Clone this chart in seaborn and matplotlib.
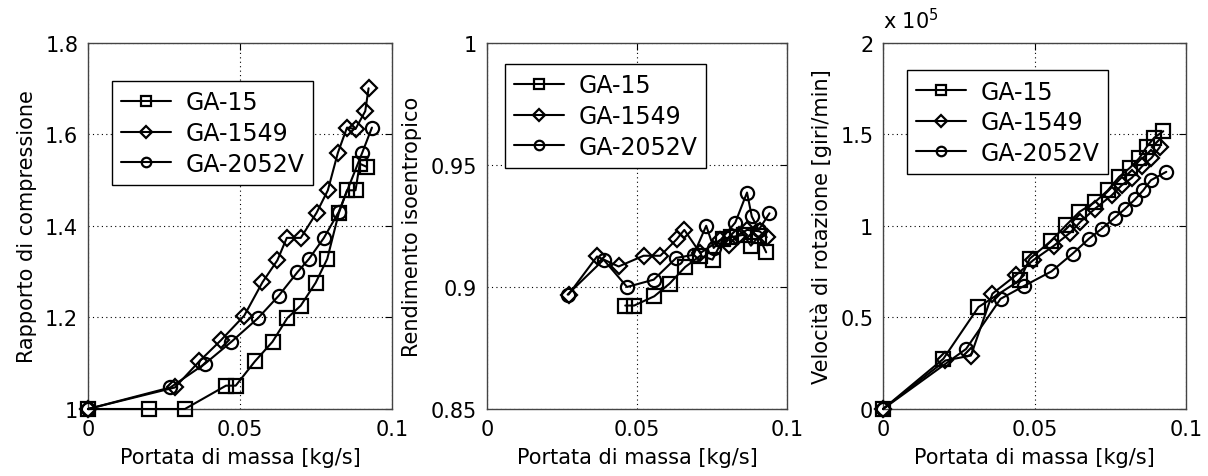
import numpy as np
import pandas as pd
import seaborn as sns
import matplotlib.pyplot as plt
from matplotlib.ticker import FixedLocator, FixedFormatter

# --- dati ---
series = ["GA-15", "GA-1549", "GA-2052V"]
markers = {"GA-15": "s", "GA-1549": "D", "GA-2052V": "o"}

# Rapporto di compressione
p1_ga15_x = [0, 0.0202, 0.0319, 0.0454, 0.0486, 0.0549, 0.0607, 0.0656, 0.0700, 0.0749, 0.0787, 0.0825, 0.0852, 0.0880, 0.0894, 0.0918]
p1_ga15_y = [1.0, 1.0, 1.0, 1.051, 1.051, 1.104, 1.147, 1.199, 1.226, 1.276, 1.328, 1.428, 1.478, 1.478, 1.536, 1.529]
p1_ga1549_x = [0, 0.0286, 0.0366, 0.0437, 0.0514, 0.0574, 0.0623, 0.0654, 0.0700, 0.0752, 0.0789, 0.0822, 0.0852, 0.0880, 0.0912, 0.0923]
p1_ga1549_y = [1.0, 1.047, 1.104, 1.150, 1.204, 1.277, 1.325, 1.374, 1.374, 1.429, 1.478, 1.560, 1.615, 1.612, 1.651, 1.701]
p1_ga2052_x = [0, 0.0271, 0.0385, 0.0472, 0.0560, 0.0628, 0.0689, 0.0727, 0.0776, 0.0825, 0.0902, 0.0934]
p1_ga2052_y = [1.0, 1.047, 1.099, 1.147, 1.199, 1.248, 1.299, 1.328, 1.374, 1.431, 1.560, 1.615]

# Rendimento isoentropico
p2_ga15_x = [0.0461, 0.0491, 0.0558, 0.0609, 0.0661, 0.0711, 0.0752, 0.0787, 0.0813, 0.0856, 0.0880, 0.0906, 0.0931]
p2_ga15_y = [0.8924, 0.8924, 0.8962, 0.9014, 0.9082, 0.9128, 0.9112, 0.9196, 0.9204, 0.9214, 0.9169, 0.9207, 0.9142]
p2_ga1549_x = [0.0272, 0.0367, 0.0439, 0.0522, 0.0578, 0.0633, 0.0658, 0.0711, 0.0778, 0.0806, 0.0839, 0.0867, 0.0909, 0.0933]
p2_ga1549_y = [0.8969, 0.9125, 0.9084, 0.9128, 0.9128, 0.9196, 0.9234, 0.9139, 0.9193, 0.9173, 0.9214, 0.9234, 0.9228, 0.9204]
p2_ga2052_x = [0.0269, 0.0389, 0.0467, 0.0556, 0.0631, 0.0689, 0.0731, 0.0756, 0.0828, 0.0867, 0.0883, 0.0906, 0.0942]
p2_ga2052_y = [0.8969, 0.9112, 0.9000, 0.9030, 0.9119, 0.9132, 0.9251, 0.9160, 0.9264, 0.9387, 0.9289, 0.9234, 0.9302]

# Velocità di rotazione (x 1e5 giri/min)
p3_ga15_x = [0, 0.0199, 0.0315, 0.0451, 0.0484, 0.0553, 0.0604, 0.0648, 0.0700, 0.0742, 0.0779, 0.0815, 0.0845, 0.0870, 0.0895, 0.0925]
p3_ga15_y = [0, 0.274, 0.557, 0.703, 0.821, 0.916, 1.004, 1.077, 1.131, 1.195, 1.268, 1.318, 1.369, 1.432, 1.482, 1.518]
p3_ga1549_x = [0, 0.0206, 0.0290, 0.0361, 0.0438, 0.0495, 0.0563, 0.0618, 0.0651, 0.0700, 0.0755, 0.0788, 0.0821, 0.0856, 0.0886, 0.0914]
p3_ga1549_y = [0, 0.265, 0.292, 0.630, 0.730, 0.812, 0.891, 0.964, 1.022, 1.095, 1.168, 1.223, 1.263, 1.328, 1.372, 1.432]
p3_ga2052_x = [0, 0.0274, 0.0388, 0.0465, 0.0556, 0.0626, 0.0680, 0.0722, 0.0764, 0.0797, 0.0832, 0.0859, 0.0884, 0.0935]
p3_ga2052_y = [0, 0.328, 0.602, 0.672, 0.752, 0.849, 0.931, 0.985, 1.044, 1.091, 1.146, 1.195, 1.250, 1.296]

x_ticks = [0, 0.05, 0.1]
x_ticklabels = ["0", "0.05", "0.1"]
p1_yticks = [1.0, 1.2, 1.4, 1.6, 1.8]
p1_yticklabels = ["1", "1.2", "1.4", "1.6", "1.8"]
p2_yticks = [0.85, 0.9, 0.95, 1.0]
p2_yticklabels = ["0.85", "0.9", "0.95", "1"]
p3_yticks = [0, 0.5, 1.0, 1.5, 2.0]
p3_yticklabels = ["0", "0.5", "1", "1.5", "2"]

xlabel = "Portata di massa [kg/s]"
ylabels = ["Rapporto di compressione", "Rendimento isoentropico", "Velocità di rotazione [giri/min]"]

sns.set_style("white")
plt.rcParams["font.family"] = ["DejaVu Sans"]
plt.rcParams["text.color"] = "black"
plt.rcParams["axes.labelcolor"] = "black"

fig = plt.figure(figsize=(12.08, 4.77), dpi=100)
axes = [
    fig.add_axes([0.0728, 0.1405, 0.2517, 0.7673]),
    fig.add_axes([0.4031, 0.1405, 0.2483, 0.7673]),
    fig.add_axes([0.7310, 0.1405, 0.2508, 0.7673]),
]

panels = [
    [(p1_ga15_x, p1_ga15_y), (p1_ga1549_x, p1_ga1549_y), (p1_ga2052_x, p1_ga2052_y)],
    [(p2_ga15_x, p2_ga15_y), (p2_ga1549_x, p2_ga1549_y), (p2_ga2052_x, p2_ga2052_y)],
    [(p3_ga15_x, p3_ga15_y), (p3_ga1549_x, p3_ga1549_y), (p3_ga2052_x, p3_ga2052_y)],
]
ylims = [(1.0, 1.8), (0.85, 1.0), (0, 2.0)]
yticks = [(p1_yticks, p1_yticklabels), (p2_yticks, p2_yticklabels), (p3_yticks, p3_yticklabels)]
legend_anchor = [(0.079, 0.896), (0.06, 0.943), (0.079, 0.926)]

for ax, data, ylim, (yt, ytl), ylab, anchor in zip(axes, panels, ylims, yticks, ylabels, legend_anchor):
    for name, (xs, ys) in zip(series, data):
        df = pd.DataFrame({"x": xs, "y": ys})
        sns.lineplot(data=df, x="x", y="y", ax=ax, sort=False, estimator=None,
                     color="black", linewidth=1.5, marker=markers[name],
                     markersize=9.5 if markers[name] != "D" else 8,
                     markerfacecolor="none", markeredgecolor="black",
                     markeredgewidth=1.6, label=name, clip_on=False, zorder=3)
    ax.set_xlim(0, 0.1)
    ax.set_ylim(*ylim)
    ax.xaxis.set_major_locator(FixedLocator(x_ticks))
    ax.xaxis.set_major_formatter(FixedFormatter(x_ticklabels))
    ax.yaxis.set_major_locator(FixedLocator(yt))
    ax.yaxis.set_major_formatter(FixedFormatter(ytl))
    ax.grid(True, linestyle=(0, (1, 3)), color="black", linewidth=0.8)
    ax.tick_params(direction="in", length=5, width=0.8, top=True, right=True,
                   labelsize=15, colors="black", pad=7)
    for sp in ax.spines.values():
        sp.set_color("#444444")
        sp.set_linewidth(1.0)
    ax.set_xlabel(xlabel, fontsize=15, labelpad=6, color="black")
    ax.set_ylabel(ylab, fontsize=15, labelpad=6, color="black")
    leg = ax.legend(loc="upper left", bbox_to_anchor=anchor, fontsize=17,
                    fancybox=False, framealpha=1, edgecolor="black",
                    handlelength=2.1, markerscale=0.72, labelspacing=0.28,
                    borderpad=0.4, handletextpad=0.6, borderaxespad=0)
    leg.get_frame().set_linewidth(1.0)
    leg.set_zorder(5)

axes[2].text(0.0, 1.03, "x 10$^{5}$", transform=axes[2].transAxes, fontsize=15,
             ha="left", va="bottom", color="black")

fig.savefig("out.png", dpi=100)
